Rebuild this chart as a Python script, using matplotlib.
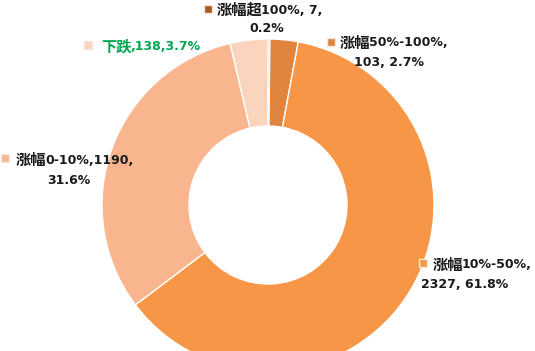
import matplotlib
matplotlib.use("Agg")
import matplotlib.pyplot as plt
from matplotlib.patches import Rectangle

# ---- data ----
categories = ["涨幅超100%", "涨幅50%-100%", "涨幅10%-50%", "涨幅0-10%", "下跌"]
values = [7, 103, 2327, 1190, 138]
colors = ["#A65A24", "#E0843E", "#F79646", "#F9B68E", "#FBD4BE"]
label_colors = ["#1a1a1a", "#1a1a1a", "#1a1a1a", "#1a1a1a", "#00A651"]

total = sum(values)
pcts = [f"{v / total * 100:.1f}%" for v in values]

# label line split (Excel-style wrapping as in the reference)
lines = [
    (f"{categories[0]}, {values[0]},", f"{pcts[0]}"),
    (f"{categories[1]},", f"{values[1]}, {pcts[1]}"),
    (f"{categories[2]},", f"{values[2]}, {pcts[2]}"),
    (f"{categories[3]},{values[3]},", f"{pcts[3]}"),
    (f"{categories[4]},{values[4]},{pcts[4]}", None),
]

W, H = 535, 351
fig = plt.figure(figsize=(W / 100, H / 100), dpi=100)
fig.patch.set_facecolor("white")

# donut: centre (268,205) px, R=166 px, r=79 px
cx, cy, R, r = 268, 205, 166, 79
ax = fig.add_axes([(cx - R) / W, (H - (cy + R)) / H, 2 * R / W, 2 * R / H])
ax.pie(values, colors=colors, startangle=90, counterclock=False, radius=1,
       wedgeprops=dict(width=1 - r / R, edgecolor="white", linewidth=1.0))
ax.set_xlim(-1, 1)
ax.set_ylim(-1, 1)
ax.set_aspect("equal")
ax.axis("off")

# overlay in pixel coords
ov = fig.add_axes([0, 0, 1, 1], facecolor="none")
ov.set_xlim(0, W)
ov.set_ylim(H, 0)
ov.axis("off")

renderer = fig.canvas.get_renderer()
CJK = dict(family="Noto Sans CJK SC", fontsize=11, fontweight="bold")
LAT = dict(family="DejaVu Sans", fontsize=9, fontweight="bold")


def runs(s):
    out, cur, cur_cjk = [], "", None
    for ch in s:
        is_cjk = ord(ch) > 0x2E80
        if cur and is_cjk != cur_cjk:
            out.append((cur, cur_cjk))
            cur = ""
        cur += ch
        cur_cjk = is_cjk
    if cur:
        out.append((cur, cur_cjk))
    return out


def draw_mixed(x, y, s, color):
    for seg, is_cjk in runs(s):
        t = ov.text(x, y, seg, ha="left", va="center", color=color,
                    **(CJK if is_cjk else LAT))
        bb = t.get_window_extent(renderer)
        x += bb.width - (1.5 if is_cjk else 0)


# positions: (marker x, marker y, line1 left x, line1 y, line2 centre x, line2 y)
pos = [
    (208, 9, 217, 10, 267, 28),
    (331, 42, 340, 43, 389, 62),
    (423, 263, 433, 265, 465, 284),
    (5, 158, 16, 160, 69, 180),
    (88, 45, 101, 46, None, None),
]
for i, (mx, my, x1, y1, x2, y2) in enumerate(pos):
    ov.add_patch(Rectangle((mx - 4, my - 4), 8, 8, facecolor=colors[i],
                           edgecolor="#F3E6DC", linewidth=1.0))
    draw_mixed(x1, y1, lines[i][0], label_colors[i])
    if lines[i][1]:
        ov.text(x2, y2, lines[i][1], ha="center", va="center",
                color=label_colors[i], **LAT)

fig.savefig("out.png", dpi=100, facecolor="white")
